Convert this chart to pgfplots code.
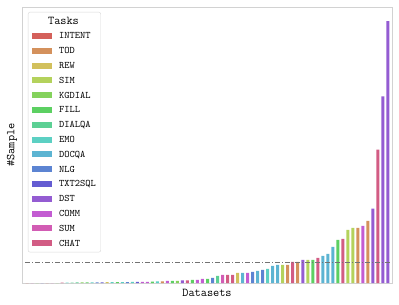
\documentclass[border=0pt]{standalone}
\usepackage{pgfplots}
\pgfplotsset{compat=1.18}
\definecolor{cINTENT}{RGB}{212,96,90}
\definecolor{cTOD}{RGB}{212,145,92}
\definecolor{cREW}{RGB}{210,192,92}
\definecolor{cSIM}{RGB}{180,210,92}
\definecolor{cKGDIAL}{RGB}{132,210,92}
\definecolor{cFILL}{RGB}{92,208,98}
\definecolor{cDIALQA}{RGB}{92,208,148}
\definecolor{cEMO}{RGB}{92,208,195}
\definecolor{cDOCQA}{RGB}{92,180,210}
\definecolor{cNLG}{RGB}{92,132,210}
\definecolor{cTXT}{RGB}{100,92,210}
\definecolor{cDST}{RGB}{148,92,210}
\definecolor{cCOMM}{RGB}{195,92,210}
\definecolor{cSUM}{RGB}{210,92,180}
\definecolor{cCHAT}{RGB}{210,92,132}
\begin{document}
\begin{tikzpicture}
\begin{axis}[
  name=ax,
  scale only axis,
  width=370bp, height=276bp,
  xmin=-1.0, xmax=72.8, ymin=0, ymax=275,
  xtick=\empty, ytick=\empty,
  axis line style={gray!35, line width=0.8bp},
  xlabel={\large\ttfamily Datasets},
  ylabel={\large\ttfamily \#Sample},
  xlabel style={at={(axis description cs:0.5,-0.036)}, anchor=center},
  ylabel style={at={(axis description cs:-0.027,0.5)}, anchor=center},
  bars/.style={ybar, bar width=3bp, bar shift=0pt, draw=none, fill=#1},
  legend image code/.code={\path[#1,draw=none,sharp corners] (0bp,-3bp) rectangle (20bp,3bp);},
  legend cell align=left,
  legend style={at={(0.016,0.982)}, anchor=north west, draw=gray!30, rounded corners=2pt,
    font=\ttfamily, inner sep=3.5bp, row sep=3.8bp,
    nodes={inner sep=1.5bp, text height=7bp, text depth=1bp},
    /tikz/every odd column/.append style={column sep=6bp}},
]
\addlegendimage{legend image code/.code={}}
\addlegendentry{\hspace*{-11bp}{\large Tasks}}
\addplot[bars=cINTENT] coordinates {(0,0) (4,0)};
\addlegendentry{INTENT}
\addplot[bars=cTOD] coordinates {(27,1.5) (52,18) (54,21) (66,55) (68,62)};
\addlegendentry{TOD}
\addplot[bars=cREW] coordinates {(16,0.8) (42,10)};
\addlegendentry{REW}
\addplot[bars=cSIM] coordinates {(51,18) (56,23) (64,53) (65,55)};
\addlegendentry{SIM}
\addplot[bars=cKGDIAL] coordinates {(2,0) (6,0) (11,0.5) (30,2.2)};
\addlegendentry{KGDIAL}
\addplot[bars=cFILL] coordinates {(12,0.6) (18,0.9) (25,1.3) (29,2) (33,3) (36,4.2) (57,23) (62,43)};
\addlegendentry{FILL}
\addplot[bars=cDIALQA] coordinates {(9,0.4) (10,0.5) (38,7)};
\addlegendentry{DIALQA}
\addplot[bars=cEMO] coordinates {(8,0.3) (13,0.6) (17,0.8) (19,0.9) (21,1.0) (26,1.5) (48,14)};
\addlegendentry{EMO}
\addplot[bars=cDOCQA] coordinates {(43,10) (46,12) (49,17) (50,18) (59,27) (60,29) (61,36)};
\addlegendentry{DOCQA}
\addplot[bars=cNLG] coordinates {(14,0.7) (20,0.9) (37,5) (45,11) (47,13)};
\addlegendentry{NLG}
\addplot[bars=cTXT] coordinates {(3,0) (15,0.7) (22,1.0)};
\addlegendentry{TXT2SQL}
\addplot[bars=cDST] coordinates {(31,2.5) (55,23) (69,74) (71,186) (72,261)};
\addlegendentry{DST}
\addplot[bars=cCOMM] coordinates {(23,1.1) (24,1.2) (28,2) (34,3.2) (35,4) (44,10) (67,57)};
\addlegendentry{COMM}
\addplot[bars=cSUM] coordinates {(1,0) (5,0) (39,8)};
\addlegendentry{SUM}
\addplot[bars=cCHAT] coordinates {(7,0.3) (32,2.7) (40,8) (41,8) (53,21) (58,25) (63,44) (70,133)};
\addlegendentry{CHAT}
\addplot[forget plot, sharp plot, draw=gray!90!black, dash pattern=on 5bp off 2bp on 1bp off 2bp, line width=0.8bp] coordinates {(-0.4,21) (72.4,21)};
\end{axis}
\pgfresetboundingbox
\path ([shift={(-22bp,-22bp)}]ax.south west) rectangle ([shift={(7bp,7bp)}]ax.north east);
\end{tikzpicture}
\end{document}
